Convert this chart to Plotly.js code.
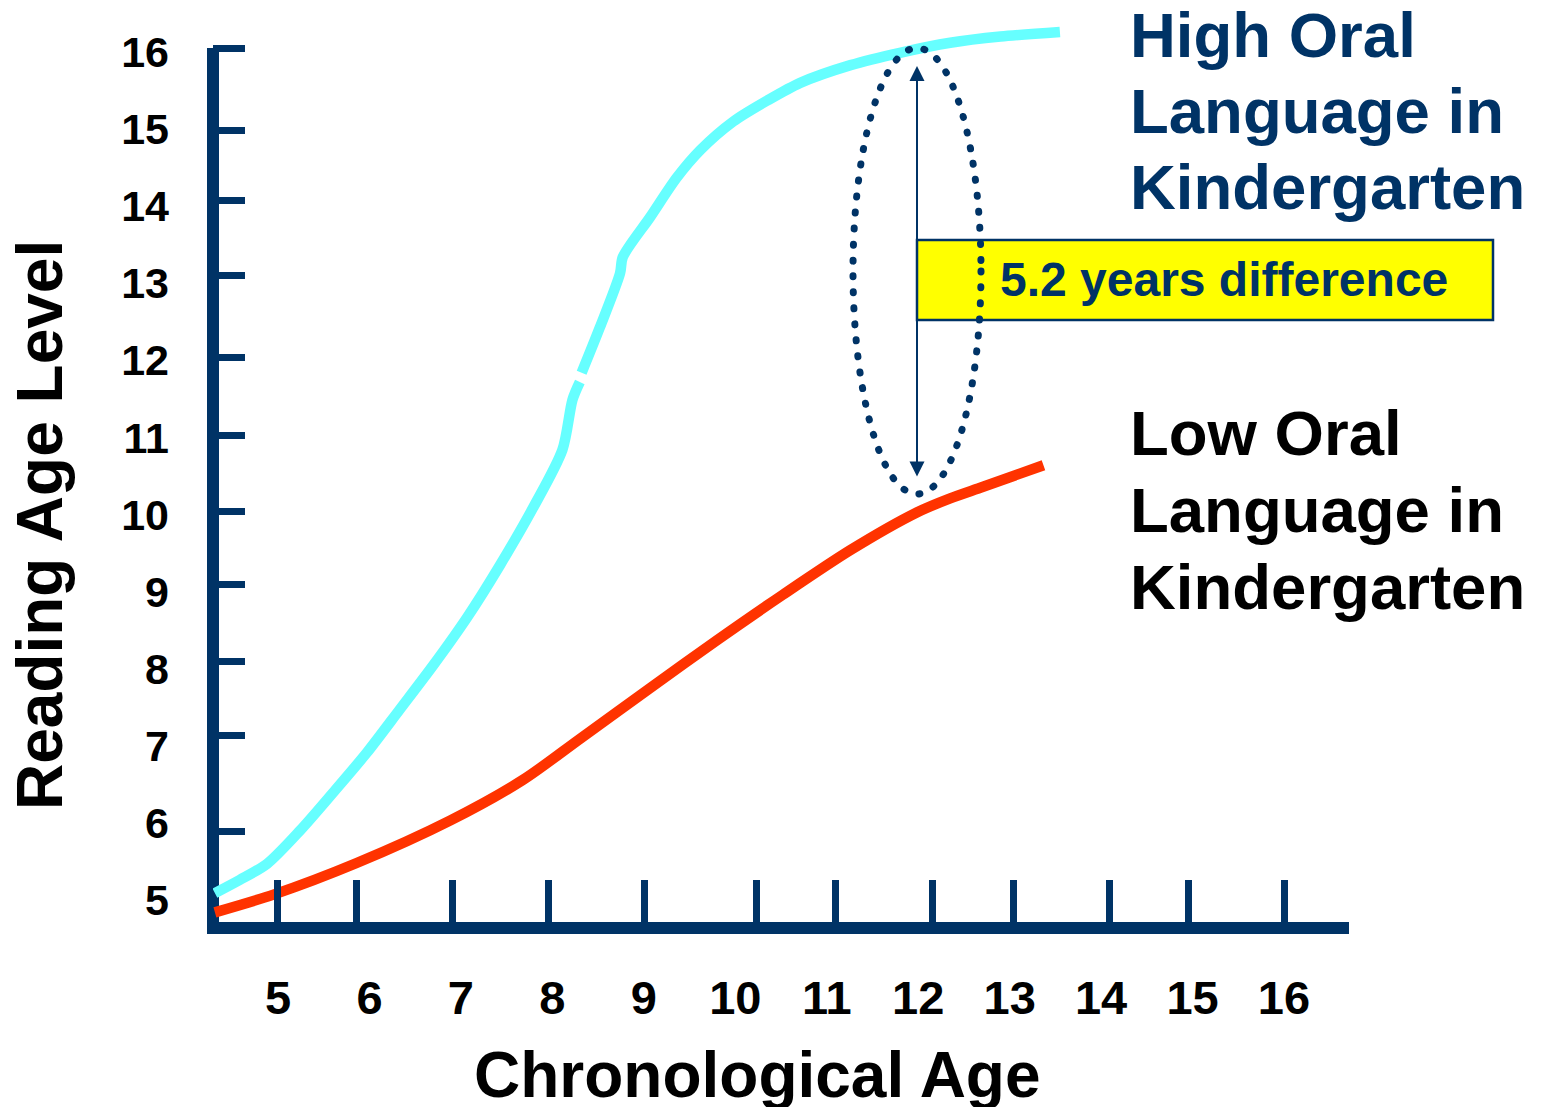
<!DOCTYPE html>
<html>
<head>
<meta charset="utf-8">
<script src="https://cdn.plot.ly/plotly-3.0.1.min.js"></script>
<style>
  html, body { margin: 0; padding: 0; background: #ffffff; }
  #chart { width: 1542px; height: 1107px; }
  .layer-above .shapelayer path { stroke-linecap: round; }
</style>
</head>
<body>
<div id="chart"></div>
<script>
// ---------------- data ----------------
const highAge = [4.31, 4.58, 4.88, 5.24, 5.60, 5.97, 6.33, 6.70, 7.07, 7.43, 7.79, 8.11, 8.22, 8.30, null,
                 8.32, 8.52, 8.74, 8.77, 9.07, 9.36, 9.62, 9.98, 10.35, 10.71, 11.26, 11.80, 12.35, 12.90, 13.55];
const highReading = [5.09, 5.26, 5.47, 5.90, 6.39, 6.91, 7.47, 8.05, 8.67, 9.35, 10.09, 10.84, 11.49, 11.72, null,
                     11.84, 12.43, 13.13, 13.34, 13.86, 14.37, 14.73, 15.10, 15.37, 15.60, 15.83, 15.99, 16.12, 16.20, 16.26];

const lowAge = [4.31, 4.95, 5.86, 6.88, 7.68, 8.30, 9.07, 9.80, 10.52, 11.26, 11.99, 12.35, 12.71, 13.37];
const lowReading = [4.84, 5.07, 5.48, 6.03, 6.56, 7.09, 7.75, 8.37, 8.96, 9.54, 10.03, 10.21, 10.36, 10.64];

const xTickValues = [5, 6, 7, 8, 9, 10, 11, 12, 13, 14, 15, 16];
const xTickLabels = ['5', '6', '7', '8', '9', '10', '11', '12', '13', '14', '15', '16'];
const yTickValues = [5, 6, 7, 8, 9, 10, 11, 12, 13, 14, 15, 16];
const yTickLabels = ['5', '6', '7', '8', '9', '10', '11', '12', '13', '14', '15', '16'];

// hand-placed tick marks of the original slide (not evenly spaced)
const xTickMarks = [4.99, 5.86, 6.91, 7.96, 9.01, 10.23, 11.10, 12.16, 13.04, 14.09, 14.96, 16.01];
const yTickMarks = [16.05, 14.98, 14.08, 13.10, 12.04, 11.03, 10.04, 9.09, 8.09, 7.13, 5.89];

const highLabelLines = ['High Oral', 'Language in', 'Kindergarten'];
const lowLabelLines = ['Low Oral', 'Language in', 'Kindergarten'];
const differenceText = '5.2 years difference';
const xTitle = 'Chronological Age';
const yTitle = 'Reading Age Level';

// ---------------- layout geometry ----------------
const W = 1542, H = 1107;
const PL = 213, PR = 1349, PT = 20, PB = 922;
const PW = PR - PL, PH = PB - PT;
const X_RANGE = [4.289, 16.711];
const Y_RANGE = [4.715, 16.415];
function px(x) { return (x - PL) / PW; }
function py(y) { return (PB - y) / PH; }

const NAVY = '#003366';
const FONT = 'Liberation Sans, Arial, Helvetica, sans-serif';

const traces = [
  {
    type: 'scatter', mode: 'lines', name: 'High Oral Language in Kindergarten',
    x: highAge, y: highReading, connectgaps: false,
    line: { color: '#66FFFF', width: 10.5, shape: 'spline', smoothing: 0.8 },
    hoverinfo: 'skip', showlegend: false
  },
  {
    type: 'scatter', mode: 'lines', name: 'Low Oral Language in Kindergarten',
    x: lowAge, y: lowReading,
    line: { color: '#FF3300', width: 10.5, shape: 'spline', smoothing: 0.8 },
    hoverinfo: 'skip', showlegend: false
  },
  // carrier for the overlay axes that draw the hand-placed tick marks
  {
    type: 'scatter', mode: 'lines', x: [], y: [], xaxis: 'x2', yaxis: 'y2',
    hoverinfo: 'skip', showlegend: false
  }
];

const annotations = [];
const highCenters = [34.5, 110.5, 187];
highLabelLines.forEach((t, i) => annotations.push({
  xref: 'paper', yref: 'paper', x: px(1128), y: py(highCenters[i]),
  xanchor: 'left', yanchor: 'middle', showarrow: false, text: t,
  font: { family: FONT, size: 63.5, color: NAVY, weight: 700 }
}));
const lowCenters = [433, 510, 587];
lowLabelLines.forEach((t, i) => annotations.push({
  xref: 'paper', yref: 'paper', x: px(1128), y: py(lowCenters[i]),
  xanchor: 'left', yanchor: 'middle', showarrow: false, text: t,
  font: { family: FONT, size: 63.5, color: '#000000', weight: 700 }
}));
annotations.push({
  xref: 'paper', yref: 'paper', x: px(998), y: py(280),
  xanchor: 'left', yanchor: 'middle', showarrow: false, text: differenceText,
  font: { family: FONT, size: 48, color: NAVY, weight: 700 }
});
// double-headed arrow
annotations.push({
  xref: 'paper', yref: 'paper', x: px(917), y: py(66),
  axref: 'pixel', ayref: 'pixel', ax: 0, ay: 478 - 66,
  text: '', showarrow: true, arrowside: 'end+start',
  arrowhead: 2, startarrowhead: 2, arrowsize: 1.5, startarrowsize: 1.5,
  arrowwidth: 2, arrowcolor: NAVY, standoff: 0, startstandoff: 0
});
// axis titles
annotations.push({
  xref: 'paper', yref: 'paper', x: px(757), y: py(1075),
  xanchor: 'center', yanchor: 'middle', showarrow: false, text: xTitle,
  font: { family: FONT, size: 64, color: '#000000', weight: 700 }
});
annotations.push({
  xref: 'paper', yref: 'paper', x: px(40), y: py(525),
  xanchor: 'center', yanchor: 'middle', showarrow: false, text: yTitle, textangle: -90,
  font: { family: FONT, size: 64, color: '#000000', weight: 700 }
});

const shapes = [
  // y axis spine (stops at the top tick, like the original)
  { type: 'line', layer: 'below', xref: 'paper', yref: 'paper',
    x0: 0, x1: 0, y0: py(934), y1: py(48),
    line: { color: NAVY, width: 12 } },
  // yellow box
  { type: 'rect', layer: 'above', xref: 'paper', yref: 'paper',
    x0: px(917), x1: px(1493), y0: py(320), y1: py(240),
    fillcolor: '#FFFF00', line: { color: NAVY, width: 2.5 } },
  // dotted ellipse
  { type: 'circle', layer: 'above', xref: 'paper', yref: 'paper',
    x0: px(853), x1: px(981), y0: py(494), y1: py(48),
    line: { color: NAVY, width: 7, dash: '1px,15px' } }
];

const tickFontX = { family: FONT, size: 47, color: '#000000', weight: 700 };
const tickFontY = { family: FONT, size: 43, color: '#000000', weight: 700 };

const layout = {
  width: W, height: H,
  margin: { l: PL, r: W - PR, t: PT, b: H - PB, pad: 0 },
  paper_bgcolor: '#ffffff', plot_bgcolor: 'rgba(0,0,0,0)',
  showlegend: false, hovermode: false,
  xaxis: {
    range: X_RANGE, fixedrange: true, showgrid: false, zeroline: false,
    showline: true, linecolor: NAVY, linewidth: 12,
    ticks: '', tickmode: 'array', tickvals: xTickValues, ticktext: xTickLabels,
    tickfont: tickFontX, ticklabelstandoff: 24
  },
  yaxis: {
    range: Y_RANGE, fixedrange: true, showgrid: false, zeroline: false,
    showline: false,
    ticks: '', tickmode: 'array', tickvals: yTickValues, ticktext: yTickLabels,
    tickfont: tickFontY, ticklabelstandoff: 43
  },
  xaxis2: {
    overlaying: 'x', anchor: 'y2', side: 'bottom', range: X_RANGE, fixedrange: true,
    showgrid: false, zeroline: false, showline: false, showticklabels: false,
    ticks: 'inside', ticklen: 42, tickwidth: 7, tickcolor: NAVY,
    tickmode: 'array', tickvals: xTickMarks
  },
  yaxis2: {
    overlaying: 'y', anchor: 'x2', side: 'left', range: Y_RANGE, fixedrange: true,
    showgrid: false, zeroline: false, showline: false, showticklabels: false,
    ticks: 'inside', ticklen: 32, tickwidth: 7, tickcolor: NAVY,
    tickmode: 'array', tickvals: yTickMarks
  },
  shapes: shapes,
  annotations: annotations
};

Plotly.newPlot('chart', traces, layout, { displayModeBar: false, staticPlot: true });
</script>
</body>
</html>
